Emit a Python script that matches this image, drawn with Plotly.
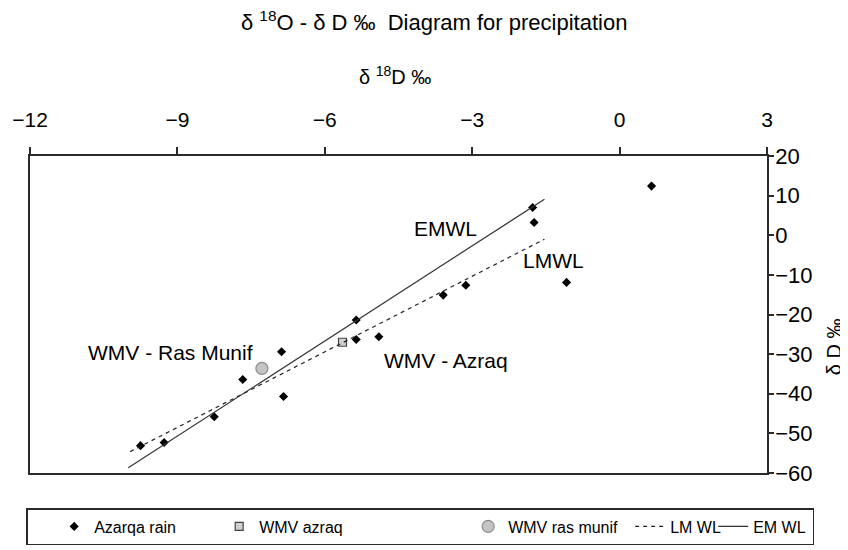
import plotly.graph_objects as go

# ---- data ----
rain_o18 = [-9.75, -9.27, -8.25, -7.67, -6.88, -6.84, -5.36, -5.36, -4.90, -3.59, -3.13, -1.77, -1.74, -1.08, 0.65]
rain_d = [-53.1, -52.3, -45.8, -36.4, -29.4, -40.7, -26.3, -21.4, -25.6, -15.1, -12.6, 7.0, 3.2, -11.9, 12.4]

wmv_azraq_o18 = [-5.64]
wmv_azraq_d = [-27.0]

wmv_munif_o18 = [-7.28]
wmv_munif_d = [-33.6]

lmwl_o18 = [-9.96, -1.53]
lmwl_d = [-54.6, -1.0]

emwl_o18 = [-10.0, -1.53]
emwl_d = [-58.7, 9.1]

x_ticks = [-12, -9, -6, -3, 0, 3]
y_ticks = [20, 10, 0, -10, -20, -30, -40, -50, -60]

FONT = "Liberation Sans, Arial, sans-serif"
AX = "#2a2a2a"

fig = go.Figure()
fig.add_trace(go.Scatter(x=rain_o18, y=rain_d, mode="markers", name="Azarqa rain",
                         marker=dict(symbol="diamond", size=7, color="black"),
                         legendwidth=120))
fig.add_trace(go.Scatter(x=wmv_azraq_o18, y=wmv_azraq_d, mode="markers", name="WMV azraq",
                         marker=dict(symbol="square", size=8, color="#cfcfcf",
                                     line=dict(color="#444", width=1.2)),
                         legendwidth=204))
fig.add_trace(go.Scatter(x=wmv_munif_o18, y=wmv_munif_d, mode="markers", name="WMV ras munif",
                         marker=dict(symbol="circle", size=12, color="#c4c4c4",
                                     line=dict(color="#8a8a8a", width=1.2)),
                         legendwidth=117))
fig.add_trace(go.Scatter(x=lmwl_o18, y=lmwl_d, mode="lines", name="LM WL",
                         line=dict(color="#222", width=1.2, dash="4px,4px"),
                         legendwidth=38))
fig.add_trace(go.Scatter(x=emwl_o18, y=emwl_d, mode="lines", name="EM WL",
                         line=dict(color="#333", width=1.2),
                         legendwidth=54))

ann_font = dict(family=FONT, size=21, color="black")
fig.add_annotation(x=-3.54, y=1.8, text="EMWL", showarrow=False, font=ann_font)
fig.add_annotation(x=-1.355, y=-6.25, text="LMWL", showarrow=False, font=ann_font)
fig.add_annotation(x=-7.42, y=-29.5, text="WMV - Ras Munif", showarrow=False, xanchor="right", font=ann_font)
fig.add_annotation(x=-4.84, y=-31.5, text="WMV - Azraq", showarrow=False, xanchor="left", font=ann_font)

# chart title and axis titles
fig.add_annotation(xref="paper", yref="paper", x=(434 - 30) / 737, y=(473 - 21) / 317,
                   text="δ <sup>18</sup>O - δ D ‰  Diagram for precipitation",
                   xanchor="center", yanchor="middle",
                   showarrow=False, font=dict(family=FONT, size=22, color="black"))
fig.add_annotation(xref="paper", yref="paper", x=0.4953, y=1.2533, text="δ <sup>18</sup>D ‰",
                   xanchor="center", yanchor="middle",
                   showarrow=False, font=dict(family=FONT, size=20, color="black"))
fig.add_annotation(xref="paper", yref="paper", x=1.091, y=0.397, text="δ D ‰", textangle=-90,
                   xanchor="center", yanchor="middle",
                   showarrow=False, font=dict(family=FONT, size=20, color="black"))

fig.update_layout(
    width=848, height=550,
    margin=dict(l=22, r=89, t=148, b=85, autoexpand=False),
    paper_bgcolor="white", plot_bgcolor="white",
    font=dict(family=FONT, color="black"),
    showlegend=True,
    legend=dict(orientation="h", x=(814 - 30) / 737, xanchor="right", y=(473 - 508) / 317, yanchor="top",
                bordercolor=AX, borderwidth=1.5, bgcolor="white",
                font=dict(family=FONT, size=16, color="black"),
                title=dict(text="\u00a0\u00a0\u00a0\u00a0", side="left",
                           font=dict(family=FONT, size=15)),
                itemwidth=30),
    xaxis=dict(side="top", range=[-12, 3], tickvals=x_ticks, showgrid=False, zeroline=False,
               showline=True, linecolor=AX, linewidth=1.5, mirror=True,
               ticks="outside", ticklen=7, tickcolor=AX, tickwidth=1.5,
               tickfont=dict(family=FONT, size=21, color="black"), ticklabelstandoff=12),
    yaxis=dict(side="right", range=[-60, 20], tickvals=y_ticks, showgrid=False, zeroline=False,
               showline=True, linecolor=AX, linewidth=1.5, mirror=True,
               ticks="outside", ticklen=5, tickcolor=AX, tickwidth=1.5,
               tickfont=dict(family=FONT, size=22, color="black"), ticklabelstandoff=-3),
)

fig.write_html("out.html")
